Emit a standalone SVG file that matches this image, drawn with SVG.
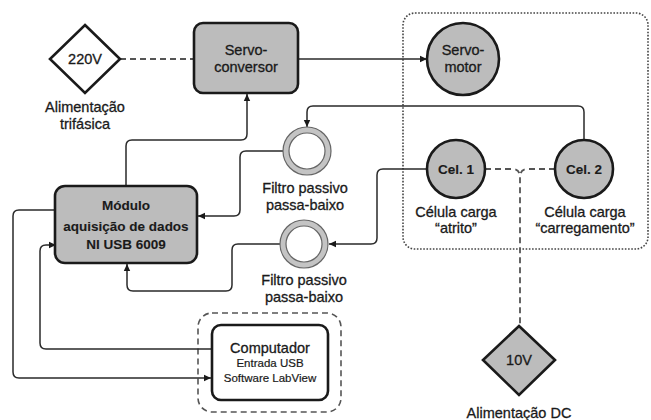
<svg xmlns="http://www.w3.org/2000/svg" width="651" height="420" viewBox="0 0 651 420">
<style>
text{font-family:"Liberation Sans",Arial,sans-serif;font-size:14.5px;fill:#1a1a1a;stroke:#1a1a1a;stroke-width:0.3;text-anchor:middle}
.b{font-weight:bold;font-size:13.5px;stroke-width:0.1}
.s{font-size:11.5px;stroke-width:0.2}
.box{fill:#bcbcbc;stroke:#1a1a1a;stroke-width:2.6}
.wbox{fill:#fff;stroke:#1a1a1a;stroke-width:2.6}
.con{fill:none;stroke:#2a2a2a;stroke-width:1.5}
.pwr{fill:none;stroke:#555;stroke-width:1.8;stroke-dasharray:6 4}
.grp{fill:none;stroke:#555;stroke-width:1.6;stroke-dasharray:6 4}
.dot{fill:none;stroke:#444;stroke-width:1.6;stroke-dasharray:1.6 1.6}
.ring{fill:none;stroke:#c4c4c4;stroke-width:6}
.rl{fill:none;stroke:#666;stroke-width:1.2}
</style>
<defs>
<marker id="ar" markerUnits="userSpaceOnUse" markerWidth="8" markerHeight="8" refX="7" refY="4" orient="auto">
<path d="M0,0.8 L7,4 L0,7.2 z" fill="#1a1a1a"/>
</marker>
</defs>
<rect width="651" height="420" fill="#fff"/>

<g id="groups">
<rect class="dot" x="403" y="13" width="245" height="236" rx="12"/>
<rect class="grp" x="198" y="313" width="143" height="99" rx="14"/>
</g>

<g id="connectors">
<path class="pwr" d="M120,59 H194"/>
<path class="pwr" d="M485,169 H512 Q520,169 520,177 V326"/>
<path class="pwr" d="M555,169 H528 Q520,169 520,177"/>
<path class="con" marker-end="url(#ar)" d="M298,59 H427"/>
<path class="con" marker-end="url(#ar)" d="M126,186 V146 Q126,140 132,140 H241 Q247,140 247,134 V94"/>
<path class="con" marker-end="url(#ar)" d="M584,140 V112 Q584,106 578,106 H313 Q307,106 307,112 V127"/>
<path class="con" marker-end="url(#ar)" d="M283,151 H246 Q240,151 240,157 V210 Q240,216 234,216 H198"/>
<path class="con" marker-end="url(#ar)" d="M427,169 H383 Q377,169 377,175 V238 Q377,244 371,244 H329"/>
<path class="con" marker-end="url(#ar)" d="M280,244 H238 Q232,244 232,250 V285 Q232,291 226,291 H133 Q127,291 127,285 V264"/>
<path class="con" marker-end="url(#ar)" d="M55,210 H19 Q13,210 13,216 V372 Q13,378 19,378 H211"/>
<path class="con" marker-end="url(#ar)" d="M212,349 H46 Q40,349 40,343 V251 Q40,245 46,245 H56"/>
</g>

<g id="n220v">
<path d="M85,25 L120,59 L85,93 L50,59 z" fill="#fff" stroke="#1a1a1a" stroke-width="2.6"/>
<text x="85" y="64">220V</text>
<text x="85" y="112">Alimentação</text>
<text x="85" y="129">trifásica</text>
</g>

<g id="servoconversor">
<rect class="box" x="194" y="23" width="104" height="70" rx="9"/>
<text x="246" y="55">Servo-</text>
<text x="246" y="72">conversor</text>
</g>

<g id="servomotor">
<circle class="box" cx="463" cy="59" r="36"/>
<text x="463" y="55">Servo-</text>
<text x="463" y="72">motor</text>
</g>

<g id="cel1">
<circle class="box" cx="456" cy="169" r="29"/>
<text class="b" x="456" y="174">Cel. 1</text>
<text x="456" y="217">Célula carga</text>
<text x="456" y="233">“atrito”</text>
</g>

<g id="cel2">
<circle class="box" cx="584" cy="169" r="29"/>
<text class="b" x="584" y="174">Cel. 2</text>
<text x="585" y="217">Célula carga</text>
<text x="585" y="233">“carregamento”</text>
</g>

<g id="filtro1">
<circle class="ring" cx="307" cy="151" r="21"/>
<circle class="rl" cx="307" cy="151" r="24"/>
<circle class="rl" cx="307" cy="151" r="18"/>
<text x="305" y="193">Filtro passivo</text>
<text x="305" y="210">passa-baixo</text>
</g>

<g id="filtro2">
<circle class="ring" cx="304" cy="244" r="21"/>
<circle class="rl" cx="304" cy="244" r="24"/>
<circle class="rl" cx="304" cy="244" r="18"/>
<text x="304" y="285">Filtro passivo</text>
<text x="304" y="302">passa-baixo</text>
</g>

<g id="modulo">
<rect class="box" x="55" y="186" width="142" height="77" rx="10"/>
<text class="b" x="126" y="210">Módulo</text>
<text class="b" x="126" y="231">aquisição de dados</text>
<text class="b" x="126" y="249">NI USB 6009</text>
</g>

<g id="computador">
<rect class="wbox" x="212" y="325" width="116" height="75" rx="9"/>
<text x="270" y="353">Computador</text>
<text class="s" x="270" y="367">Entrada USB</text>
<text class="s" x="270" y="382">Software LabView</text>
</g>

<g id="n10v">
<path d="M519,326 L555,360 L519,395 L483,360 z" fill="#bcbcbc" stroke="#1a1a1a" stroke-width="2.6"/>
<text x="519" y="365">10V</text>
<text x="519" y="418">Alimentação DC</text>
</g>
</svg>
